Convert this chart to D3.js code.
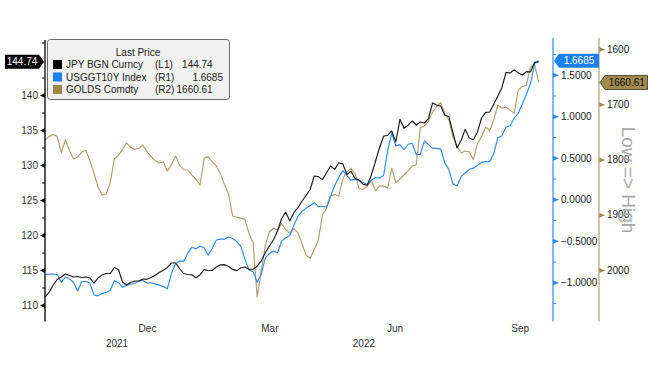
<!DOCTYPE html>
<html><head><meta charset="utf-8">
<script src="https://cdn.jsdelivr.net/npm/d3@7"></script>
<style>
html,body{margin:0;padding:0;background:#fff;}
svg{display:block;font-family:"Liberation Sans",Arial,sans-serif;}
</style></head><body>
<svg id="chart" width="648" height="367"></svg>
<script>
// ---------------- DATA ----------------
const dates = [
"2021-09-17","2021-09-20","2021-09-23","2021-09-26","2021-09-29",
"2021-10-02","2021-10-05","2021-10-08","2021-10-11","2021-10-14","2021-10-17","2021-10-20","2021-10-23","2021-10-26","2021-10-29",
"2021-11-01","2021-11-04","2021-11-07","2021-11-10","2021-11-13","2021-11-16","2021-11-19","2021-11-22","2021-11-25","2021-11-28",
"2021-12-01","2021-12-04","2021-12-07","2021-12-10","2021-12-13","2021-12-16","2021-12-19","2021-12-22","2021-12-25","2021-12-28","2021-12-31",
"2022-01-03","2022-01-06","2022-01-09","2022-01-12","2022-01-15","2022-01-18","2022-01-21","2022-01-24","2022-01-27","2022-01-30",
"2022-02-02","2022-02-05","2022-02-08","2022-02-11","2022-02-14","2022-02-17","2022-02-20","2022-02-23","2022-02-26",
"2022-03-01","2022-03-04","2022-03-07","2022-03-10","2022-03-13","2022-03-16","2022-03-19","2022-03-22","2022-03-25","2022-03-28","2022-03-31",
"2022-04-03","2022-04-06","2022-04-09","2022-04-12","2022-04-15","2022-04-18","2022-04-21","2022-04-24","2022-04-27","2022-04-30",
"2022-05-03","2022-05-06","2022-05-09","2022-05-12","2022-05-15","2022-05-18","2022-05-21","2022-05-24","2022-05-27","2022-05-30",
"2022-06-02","2022-06-05","2022-06-08","2022-06-11","2022-06-14","2022-06-17","2022-06-20","2022-06-23","2022-06-26","2022-06-29",
"2022-07-02","2022-07-05","2022-07-08","2022-07-11","2022-07-14","2022-07-17","2022-07-20","2022-07-23","2022-07-26","2022-07-29",
"2022-08-01","2022-08-04","2022-08-07","2022-08-10","2022-08-13","2022-08-16","2022-08-19","2022-08-22","2022-08-25","2022-08-28","2022-08-31",
"2022-09-03","2022-09-06","2022-09-09","2022-09-12","2022-09-15"];

// JPY BGN Curncy (left axis L1)
const jpy = [
111.14,111.79,112.86,113.64,114.00,
114.43,114.21,114.00,114.07,113.93,114.00,113.86,113.14,113.86,114.29,
114.50,114.50,115.36,115.07,113.29,112.86,113.21,113.43,113.43,113.71,
113.67,113.94,114.24,114.63,114.96,115.36,116.00,116.00,115.19,114.50,114.36,
114.31,113.89,114.29,115.06,114.93,114.93,115.43,115.74,115.77,115.51,
115.09,114.91,115.29,115.43,115.11,115.10,115.54,116.29,117.46,
118.43,119.33,120.57,122.36,123.29,122.00,123.19,123.90,124.86,125.66,126.50,
128.43,128.34,127.91,128.86,129.89,129.37,130.31,130.16,128.63,129.11,
128.09,127.81,127.24,127.10,128.57,130.53,132.46,134.10,134.26,134.86,
133.29,136.53,135.26,135.69,136.29,135.71,136.14,136.00,136.64,138.86,
138.57,138.43,137.11,136.93,134.57,132.43,133.53,135.09,133.86,133.61,
134.69,136.71,137.51,137.57,138.71,139.81,141.07,143.24,143.14,143.61,143.16,
142.86,143.33,143.29,144.67,144.74];

// USGGT10Y Index (right axis R1)
const ust10y = [
-0.900,-0.904,-0.900,-0.906,-1.002,
-0.936,-0.958,-1.002,-1.105,-0.994,-0.988,-1.008,-1.153,-1.163,-1.136,
-1.122,-1.096,-0.977,-1.005,-1.059,-1.035,-1.024,-1.012,-0.986,-0.976,
-1.010,-1.005,-1.019,-1.034,-1.052,-1.077,-0.894,-0.776,-0.742,-0.748,-0.649,
-0.577,-0.599,-0.563,-0.584,-0.675,-0.590,-0.490,-0.480,-0.480,-0.455,
-0.475,-0.507,-0.567,-0.723,-0.852,-0.871,-0.999,-0.900,-0.705,
-0.653,-0.624,-0.647,-0.502,-0.465,-0.437,-0.313,-0.205,-0.145,-0.106,-0.078,
-0.041,-0.089,-0.084,-0.094,0.040,0.165,0.264,0.346,0.288,0.229,
0.240,0.231,0.201,0.182,0.230,0.263,0.257,0.287,0.594,0.794,
0.641,0.659,0.599,0.663,0.676,0.539,0.542,0.705,0.659,0.613,
0.614,0.607,0.437,0.358,0.186,0.160,0.273,0.317,0.361,0.375,
0.407,0.445,0.454,0.454,0.551,0.740,0.765,0.870,0.887,0.977,1.036,
1.148,1.264,1.392,1.634,1.6685];

// GOLDS Comdty (right axis R2, inverted)
const gold = [
1764.7,1758.6,1754.8,1758.4,1787.7,
1764.0,1783.7,1799.1,1795.3,1786.6,1783.2,1802.5,1824.4,1850.1,1864.1,
1862.5,1841.5,1798.7,1792.6,1781.7,1770.0,1778.5,1781.4,1780.1,1773.8,
1785.7,1794.6,1802.0,1806.3,1804.3,1821.2,1808.9,1793.7,1810.5,1818.5,1819.0,
1828.4,1835.7,1846.2,1797.3,1794.8,1804.5,1811.6,1826.1,1845.8,1862.6,
1902.3,1904.4,1906.1,1908.4,1934.1,1950.1,2048.9,2000.6,1955.8,
1930.7,1924.2,1927.2,1915.8,1926.7,1933.0,1925.1,1932.3,1952.4,1973.2,1978.8,
1962.9,1946.3,1900.1,1888.9,1866.3,1863.5,1866.4,1834.8,1821.9,1816.1,
1825.7,1853.0,1853.8,1848.5,1837.7,1856.7,1847.6,1848.2,1851.6,1815.4,
1842.4,1835.3,1828.1,1820.6,1812.0,1809.4,1742.4,1739.7,1730.3,1714.0,
1704.4,1697.0,1716.7,1728.9,1758.9,1775.4,1788.1,1784.6,1786.2,1800.2,
1771.4,1758.9,1741.0,1747.9,1727.6,1701.5,1707.0,1705.5,1710.6,1716.6,1674.2,
1668.1,1665.0,1632.6,1627.9,1660.61];

const leftTicks = [110,115,120,125,130,135,140];
const leftMinorTicks = [112.5,117.5,122.5,127.5,132.5,137.5,142.5,147.5];
const blueTicks = [-1,-0.5,0,0.5,1,1.5];
const blueMinorTicks = [-1.25,-0.75,-0.25,0.25,0.75,1.25,1.75];
const goldTicks = [1600,1700,1800,1900,2000];
const monthTickDates = ["2021-12-01","2022-03-01","2022-06-01","2022-09-01"];
const monthTickLabels = ["Dec","Mar","Jun","Sep"];
const yearLabels = ["2021","2022"];
const legendTitle = "Last Price";
const legendNames = ["JPY BGN Curncy","USGGT10Y Index","GOLDS Comdty"];
const legendAxes = ["(L1)","(R1)","(R2)"];
const axisNote = "Low => High";

// ---------------- LAYOUT ----------------
const C_JPY = "#1c1c1c", C_UST = "#2e8bff", C_GOLD = "#b39d6d";
const SQ = ["#000000", "#1a80ff", "#9f8849"];
const plotLeft = 45, plotRight = 553.6, plotTop = 38, plotBottom = 321.5;
const blueAxisX = 553, goldAxisX = 599;

const svg = d3.select("#chart");
const parse = d3.timeParse("%Y-%m-%d");
const dateObjs = dates.map(parse);

const x = d3.scaleTime().domain([dateObjs[0], parse("2022-09-26")]).range([plotLeft, plotRight]);
const yL = d3.scaleLinear().domain([110, 140]).range([305, 95]);
const yB = d3.scaleLinear().domain([0, 1.5]).range([199.3, 74.8]);
const yG = d3.scaleLinear().domain([1600, 2000]).range([49, 270]);

const font = "10px";

// ---------------- LINES ----------------
function drawLine(vals, scale, color) {
  const line = d3.line().x((d, i) => x(dateObjs[i])).y(d => scale(d));
  svg.append("path").datum(vals).attr("d", line)
    .attr("fill", "none").attr("stroke", color).attr("stroke-width", 1.15)
    .attr("stroke-linejoin", "round");
}
drawLine(gold, yG, C_GOLD);
drawLine(ust10y, yB, C_UST);
drawLine(jpy, yL, C_JPY);

// ---------------- LEFT AXIS ----------------
const gL = svg.append("g").attr("transform", `translate(${plotLeft},0)`)
  .call(d3.axisLeft(yL).tickValues(leftTicks).tickSize(0).tickPadding(7).tickFormat(d3.format("d")));
gL.select(".domain").remove();
gL.selectAll("text").attr("fill", "#333").style("font-size", font);
gL.selectAll(".tick").append("path").attr("d", "M0,-2.5L-5,0L0,2.5Z").attr("fill", "#000");
const gLm = svg.append("g").attr("transform", `translate(${plotLeft},0)`)
  .call(d3.axisLeft(yL).tickValues(leftMinorTicks).tickSize(3).tickFormat(""));
gLm.select(".domain").remove();
gLm.selectAll("line").attr("stroke", "#000");
svg.append("line").attr("x1", plotLeft).attr("x2", plotLeft).attr("y1", plotTop + 2).attr("y2", plotBottom)
  .attr("stroke", "#000").attr("stroke-width", 1.3);

// ---------------- BLUE RIGHT AXIS ----------------
const gB = svg.append("g").attr("transform", `translate(${blueAxisX},0)`)
  .call(d3.axisRight(yB).tickValues(blueTicks).tickSize(0).tickPadding(8).tickFormat(d3.format(".4f")));
gB.select(".domain").remove();
gB.selectAll("text").attr("fill", "#222").style("font-size", font);
gB.selectAll(".tick").append("path").attr("d", "M0,-2.5L6,0L0,2.5Z").attr("fill", C_UST);
const gBm = svg.append("g").attr("transform", `translate(${blueAxisX},0)`)
  .call(d3.axisRight(yB).tickValues(blueMinorTicks).tickSize(3).tickFormat(""));
gBm.select(".domain").remove();
gBm.selectAll("line").attr("stroke", C_UST);
svg.append("line").attr("x1", blueAxisX).attr("x2", blueAxisX).attr("y1", plotTop).attr("y2", plotBottom)
  .attr("stroke", C_UST).attr("stroke-width", 1.2);

// ---------------- GOLD RIGHT AXIS ----------------
const gG = svg.append("g").attr("transform", `translate(${goldAxisX},0)`)
  .call(d3.axisRight(yG).tickValues(goldTicks).tickSize(0).tickPadding(8).tickFormat(d3.format("d")));
gG.select(".domain").remove();
gG.selectAll("text").attr("fill", "#222").style("font-size", font);
gG.selectAll(".tick").append("path").attr("d", "M0,-2.5L6,0L0,2.5Z").attr("fill", "#9f8849");
svg.append("line").attr("x1", goldAxisX).attr("x2", goldAxisX).attr("y1", plotTop).attr("y2", plotBottom)
  .attr("stroke", "#b5a070").attr("stroke-width", 1.2);

svg.append("text").text(axisNote)
  .attr("transform", `translate(622,180) rotate(90)`)
  .attr("text-anchor", "middle").attr("fill", "#a8a8a8")
  .style("font-size", "19px");

// ---------------- X AXIS ----------------
const gX = svg.append("g").attr("transform", `translate(0,${plotBottom})`)
  .call(d3.axisBottom(x).tickValues(monthTickDates.map(parse)).tickSize(0).tickPadding(3)
    .tickFormat((d, i) => monthTickLabels[i]));
gX.select(".domain").remove();
gX.selectAll("text").attr("fill", "#333").style("font-size", font);
const jan1 = parse("2022-01-01");
const yearPos = [(x(dateObjs[0]) + x(jan1)) / 2, (x(jan1) + x(dateObjs[dateObjs.length - 1])) / 2];
svg.selectAll(".yearLbl").data(yearLabels).enter().append("text")
  .attr("x", (d, i) => yearPos[i]).attr("y", plotBottom + 25.5)
  .attr("text-anchor", "middle").attr("fill", "#333").style("font-size", font).text(d => d);

// ---------------- VALUE TAGS ----------------
const lastJ = jpy[jpy.length - 1], lastB = ust10y[ust10y.length - 1], lastG = gold[gold.length - 1];
const lastVals = [lastJ.toFixed(2), lastB.toFixed(4), lastG.toFixed(2)];
// left (black) tag, pointing right
(function () {
  const cy = yL(lastJ), tip = 44, h = 14, x0 = 5, x1 = 39;
  svg.append("path").attr("d", `M${x0},${cy - h / 2}L${x1},${cy - h / 2}L${tip},${cy}L${x1},${cy + h / 2}L${x0},${cy + h / 2}Z`)
    .attr("fill", "#000");
  svg.append("text").text(lastVals[0]).attr("x", (x0 + x1) / 2).attr("y", cy + 3.6)
    .attr("text-anchor", "middle").attr("fill", "#fff").style("font-size", font);
})();
// blue tag, pointing left
(function () {
  const cy = yB(lastB), tip = 554, h = 14, x0 = 559, x1 = 599;
  svg.append("path").attr("d", `M${tip},${cy}L${x0},${cy - h / 2}L${x1},${cy - h / 2}L${x1},${cy + h / 2}L${x0},${cy + h / 2}Z`)
    .attr("fill", "#1a80f5");
  svg.append("text").text(lastVals[1]).attr("x", (x0 + x1) / 2).attr("y", cy + 3.6)
    .attr("text-anchor", "middle").attr("fill", "#fff").style("font-size", font);
})();
// gold tag, pointing left
(function () {
  const cy = yG(lastG), tip = 600, h = 14, x0 = 605, x1 = 647.5;
  svg.append("path").attr("d", `M${tip},${cy}L${x0},${cy - h / 2}L${x1},${cy - h / 2}L${x1},${cy + h / 2}L${x0},${cy + h / 2}Z`)
    .attr("fill", "#a08a4e").attr("stroke", "#3a3320").attr("stroke-width", 0.8);
  svg.append("text").text(lastVals[2]).attr("x", (x0 + x1) / 2 + 0.5).attr("y", cy + 3.6)
    .attr("text-anchor", "middle").attr("fill", "#111").style("font-size", font);
})();

// ---------------- LEGEND ----------------
const lg = svg.append("g");
lg.append("rect").attr("x", 47.5).attr("y", 39.5).attr("width", 182).attr("height", 60).attr("rx", 3)
  .attr("fill", "#f1f1f1").attr("stroke", "#6a6a6a").attr("stroke-width", 1);
lg.append("text").text(legendTitle).attr("x", 138).attr("y", 55.5).attr("text-anchor", "middle")
  .attr("fill", "#222").style("font-size", font);
const rowY = [64.5, 77, 89.5];
const valueEnd = [212.7, 223, 212.7];
legendNames.forEach((nm, i) => {
  lg.append("rect").attr("x", 53).attr("y", rowY[i] - 4.5).attr("width", 9).attr("height", 9).attr("fill", SQ[i]);
  lg.append("text").text(nm).attr("x", 66).attr("y", rowY[i] + 3.6).attr("fill", "#222").style("font-size", font);
  lg.append("text").text(legendAxes[i]).attr("x", 155).attr("y", rowY[i] + 3.6).attr("fill", "#222").style("font-size", font);
  lg.append("text").text(lastVals[i]).attr("x", valueEnd[i]).attr("y", rowY[i] + 3.6).attr("text-anchor", "end")
    .attr("fill", "#222").style("font-size", font);
});
</script>
</body></html>
